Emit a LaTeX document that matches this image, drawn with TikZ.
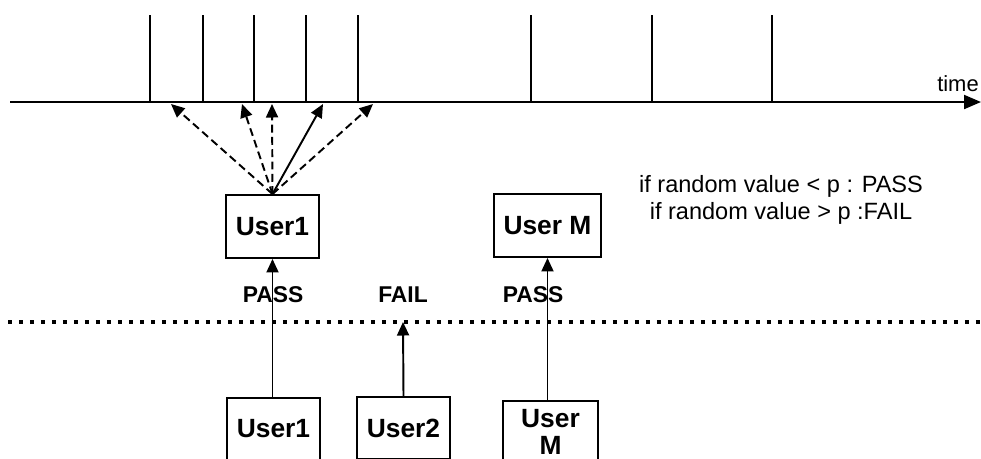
\documentclass[tikz,border=0pt]{standalone}
\usepackage{fontspec}
\setmainfont{Liberation Sans}
\usepackage{tikz}
\usetikzlibrary{positioning,arrows.meta}

\begin{document}
\begin{tikzpicture}[
    x=0.02cm, y=-0.02cm,
    userbox/.style={rectangle, draw=black, line width=1.1pt, font=\bfseries\fontsize{15}{16}\selectfont, align=center, minimum height=1.26cm},
    verdict/.style={font=\bfseries\fontsize{13}{14}\selectfont},
    tick/.style={line width=1.1pt},
    tip/.style={-{Triangle[length=0.27cm, width=0.24cm]}, line width=1.1pt},
    dashy/.style={dash pattern=on 4.5pt off 2.5pt}
    ]
        \clip (0,0) rectangle (981,458);

        %Time axis
        \draw[line width=1.2pt, -{Triangle[length=0.34cm, width=0.28cm]}] (10,102) -- (981,102);
        \node[font=\fontsize{12.5}{14}\selectfont] (time) at (958,84) {time};
        \foreach \x in {150,203,254,306,358,531,652,772}
            \draw[tick] (\x,15) -- (\x,102);
        \coordinate (s1) at (171,104);
        \coordinate (s2) at (242,104);
        \coordinate (s3) at (272,104);
        \coordinate (s4) at (323,104);
        \coordinate (s5) at (373,104);

        %Nodes
        \node[userbox, minimum width=1.86cm]
            (u1)    at (272.5,226.5)    {User1};
        \node[userbox, minimum width=2.14cm]
            (uM)    at (547.5,225.5)    {User M};
        \node[userbox, minimum width=1.86cm, minimum height=1.24cm]
            (l1)    at (273.5,429)      {User1};
        \node[userbox, minimum width=1.86cm, minimum height=1.24cm]
            (l2)    at (403.5,428)      {User2};
        \node[userbox, minimum width=1.9cm, minimum height=1.24cm, font=\bfseries\fontsize{15}{15}\selectfont]
            (lM)    at (550.5,432)      {User\\M};

        \node[verdict] (p1) at (273,295) {PASS};
        \node[verdict] (f2) at (403,295) {FAIL};
        \node[verdict] (pM) at (533,295) {PASS};

        \node[font=\fontsize{13.4}{15}\selectfont, align=center] (rule) at (781,200)
            {if random value < p : PASS\\if random value > p :FAIL};

        %Threshold line
        \draw[line width=0.085cm, dash pattern=on 0.085cm off 0.135cm] (8,322) -- (981,322);
        \coordinate (cut) at (403,322);

        %Lines
        \draw[tip, dashy] (u1.north) -- (s1);
        \draw[tip, dashy] (u1.north) -- (s2);
        \draw[tip, dashy] (u1.north) -- (s3);
        \draw[tip] (u1.north) -- (s4);
        \draw[tip, dashy] (u1.north) -- (s5);

        \draw[tip] (l1.north -| u1.south) -- (u1.south);
        \draw[tip] (l2.north) -- (cut);
        \draw[tip] (lM.north -| uM.south) -- (uM.south);
    \end{tikzpicture}
\end{document}
